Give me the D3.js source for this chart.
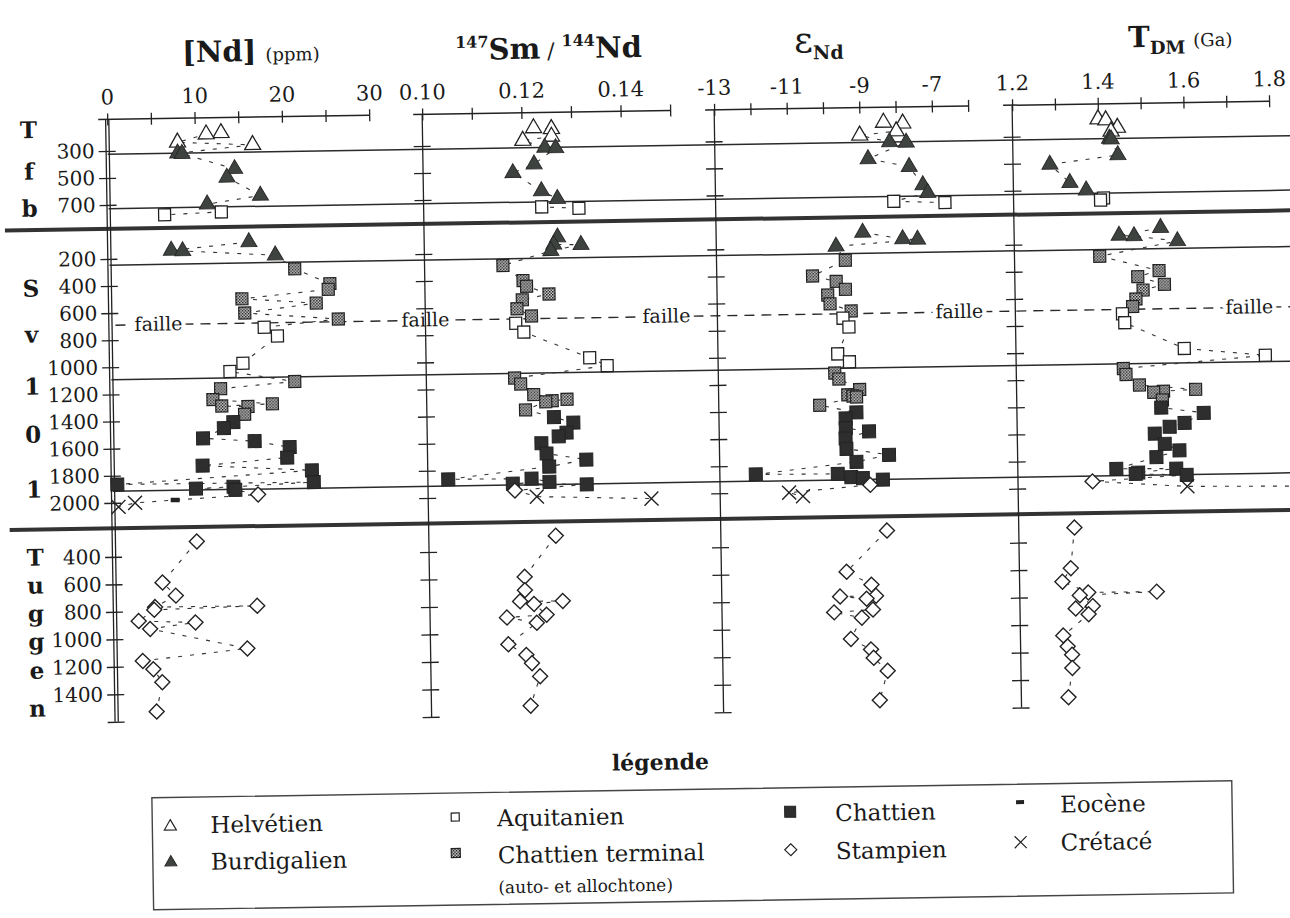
<!DOCTYPE html>
<html><head><meta charset="utf-8">
<script src="https://cdn.jsdelivr.net/npm/d3@7"></script>
<style>
body{margin:0;background:#fff;}
svg{display:block;}
text{font-family:"DejaVu Serif","Liberation Serif",serif;fill:#1a1a1a;}
</style></head><body>
<svg id="c" width="1290" height="918"></svg>
<script>
// ================= DATA =================
const ndTicks = [0,5,10,15,20,25,30];
const ndLabels = [0,10,20,30];
const smndTicks = [0.10,0.11,0.12,0.13,0.14,0.15];
const smndLabels = [0.10,0.12,0.14];
const epsTicks = [-13,-12,-11,-10,-9,-8,-7,-6];
const epsLabels = [-13,-11,-9,-7];
const tdmTicks = [1.2,1.3,1.4,1.5,1.6,1.7,1.8];
const tdmLabels = [1.2,1.4,1.6,1.8];

const tfbDepthTicks = [300,500,700];
const svDepthTicks = [200,400,600,800,1000,1200,1400,1600,1800,2000];
const tugDepthTicks = [400,600,800,1000,1200,1400];
const tugAxisEnd = [1600];

const tfbBoundaries = [325,728];
const svBoundaries = [246,1092,1915];
const svFault = [690];

// Tfb section
const tfbDepth = [180,188,245,272,325,330,448,510,648,706,765,780];
const tfbStage = ['H','H','H','H','B','B','B','B','B','B','A','A'];
const tfbNd    = [13.0,11.3,8.0,16.6,8.0,8.5,14.5,13.6,17.4,11.3,12.9,6.4];
const tfbSmNd  = [0.1224,0.1260,0.1260,0.1202,0.1246,0.1268,0.1224,0.1181,0.1238,0.1270,0.1238,0.1313];
const tfbEps   = [-8.34,-7.81,-7.99,-9.00,-8.18,-7.72,-8.78,-7.65,-7.28,-7.15,-8.09,-6.68];
const tfbTdm   = [1.400,1.418,1.445,1.430,1.426,1.430,1.445,1.286,1.332,1.370,1.410,1.403];

// Sv 101 section
const svDepth = [92,145,150,192, 295,408,450,510,550,615,670, 722,788,985,1045,
  1126,1170,1250,1288,1298,1305,1362, 1419,1462,1534,1561,1610,1686,1736,1783,
  1865,1870,1895,1905,1918, 1955,1986,2003,2031];
const svStage = ['B','B','B','B', 'CT','CT','CT','CT','CT','CT','CT', 'A','A','A','A',
  'CT','CT','CT','CT','CT','CT','CT', 'C','C','C','C','C','C','C','C',
  'C','C','C','C','C', 'S','E','K','K'];
const svNd = [16.0,7.1,8.4,19.0, 21.2,25.2,25.0,15.1,23.6,15.4,26.1, 17.6,19.1,15.1,13.6,
  21.0,12.5,11.6,18.4,12.6,15.6,15.2, 13.9,12.8,10.4,16.3,20.3,20.0,10.3,22.8,
  0.5,23.0,13.8,9.5,14.0, 16.6,7.1,2.5,0.6];
const svSmNd = [0.1269,0.1261,0.1316,0.1255, 0.1158,0.1198,0.1205,0.1250,0.1196,0.1185,0.1214,
  0.1182,0.1198,0.1330,0.1365, 0.1178,0.1190,0.1216,0.1283,0.1253,0.1240,0.1199,
  0.1256,0.1295,0.1281,0.1265,0.1230,0.1240,0.1320,0.1245,
  0.1041,0.1209,0.1245,0.1171,0.1320, 0.1175,null,0.1219,0.1450];
const svEps = [-8.96,-7.86,-7.45,-9.70, -9.45,-10.36,-9.71,-9.46,-9.95,-9.89,-9.31,
  -9.54,-9.38,-9.70,-9.38, -9.79,-9.68,-9.11,-9.44,-9.30,-9.20,-10.22,
  -9.21,-9.51,-9.51,-8.87,-9.52,-9.50,-8.33,-9.23,
  -12.01,-9.75,-9.38,-9.06,-8.51, -8.86,null,-11.10,-10.72];
const svTdm = [1.542,1.445,1.480,1.581, 1.399,1.537,1.487,1.549,1.499,1.482,1.474,
  1.450,1.455,1.593,1.782, 1.450,1.456,1.487,1.618,1.543,1.520,1.540,
  1.537,1.636,1.591,1.556,1.521,1.544,1.578,1.524,
  1.430,1.570,1.481,1.475,1.594, 1.374,null,1.595,2.30];

// Tuggen section
const tugDepth = [297,592,689,770,772,790,870,886,928,1081,1160,1221,1317,1530];
const tugStage = ['S','S','S','S','S','S','S','S','S','S','S','S','S','S'];
const tugNd    = [9.5,5.5,7.0,4.6,16.3,4.5,2.7,9.2,4.0,15.1,3.1,4.3,5.3,4.6];
const tugSmNd  = [0.1256,0.1192,0.1192,0.1182,0.1268,0.1210,0.1235,0.1155,0.1215,0.1157,0.1193,0.1204,0.1220,0.1200];
const tugEps   = [-8.42,-9.55,-8.87,-8.75,-9.74,-9.01,-8.84,-9.91,-9.15,-9.46,-8.91,-8.84,-8.46,-8.69];
const tugTdm   = [1.33,1.32,1.30,1.36,1.52,1.34,1.37,1.33,1.36,1.30,1.31,1.32,1.32,1.31];

const stageNames = {H:'Helvétien',B:'Burdigalien',A:'Aquitanien',CT:'Chattien terminal',C:'Chattien',S:'Stampien',E:'Eocène',K:'Crétacé'};

// ================= LAYOUT / STYLE =================
const FONT = '"DejaVu Serif","Liberation Serif",serif';
const AX_Y = 111, AX_BOTTOM = 713.5;
const svg = d3.select('#c');
const defs = svg.append('defs');
const pat = defs.append('pattern').attr('id','stip').attr('width',3).attr('height',3).attr('patternUnits','userSpaceOnUse');
pat.append('rect').attr('width',3).attr('height',3).attr('fill','#d8d8d8');
pat.append('rect').attr('width',1.5).attr('height',1.5).attr('fill','#111');
pat.append('rect').attr('x',1.5).attr('y',1.5).attr('width',1.5).attr('height',1.5).attr('fill','#333');

const root = svg.append('g').attr('transform','rotate(-0.9,645,420)');

const style = {
  H:{shape:'tri',size:16,fill:'#fff',stroke:'#222',sw:1.3},
  B:{shape:'tri',size:16,fill:'#3e433f',stroke:'#2a2a2a',sw:1},
  A:{shape:'sq',size:12,fill:'#fff',stroke:'#222',sw:1.3},
  CT:{shape:'sq',size:12,fill:'url(#stip)',stroke:'#222',sw:1.2},
  C:{shape:'sq',size:13,fill:'#2e2e2e',stroke:'#222',sw:1},
  S:{shape:'dia',size:15,fill:'#fff',stroke:'#222',sw:1.4},
  E:{shape:'bar',size:9,fill:'#222',stroke:'none',sw:0},
  K:{shape:'x',size:14,fill:'none',stroke:'#222',sw:1.4}
};
function shapePath(shape,s){
  if(shape==='tri'){const h=s*Math.sqrt(3)/2;return `M0,${-2*h/3}L${s/2},${h/3}L${-s/2},${h/3}Z`;}
  if(shape==='sq') return `M${-s/2},${-s/2}h${s}v${s}h${-s}Z`;
  if(shape==='dia'){const r=s/2;return `M0,${-r}L${r},0L0,${r}L${-r},0Z`;}
  if(shape==='bar') return `M${-s/2},${-s/4}h${s}v${s/2}h${-s}Z`;
  if(shape==='x'){const r=s/2;return `M${-r},${-r}L${r},${r}M${-r},${r}L${r},${-r}`;}
}

const panels = [
  {key:'nd',  x:[112,374],  dom:[0,30],      ticks:ndTicks,   labels:ndLabels,   fmt:d=>String(d)},
  {key:'smnd',x:[427,675],  dom:[0.10,0.15], ticks:smndTicks, labels:smndLabels, fmt:d=>d.toFixed(2)},
  {key:'eps', x:[719,973],  dom:[-13,-6],    ticks:epsTicks,  labels:epsLabels,  fmt:d=>String(d)},
  {key:'tdm', x:[1017,1274],dom:[1.2,1.8],   ticks:tdmTicks,  labels:tdmLabels,  fmt:d=>d.toFixed(1)}
];
panels.forEach(p=>{ p.xs = d3.scaleLinear().domain(p.dom).range(p.x); });

const sections = [
  {letters:['T','f','b'], letterY:[128.5,170,207], depth:tfbDepth, stage:tfbStage,
   vals:{nd:tfbNd,smnd:tfbSmNd,eps:tfbEps,tdm:tfbTdm},
   ys:d3.scaleLinear().domain([300,700]).range([142.5,196.5]),
   ticks:tfbDepthTicks, labelTicks:tfbDepthTicks, lines:tfbBoundaries, fault:[]},
  {letters:['S','v','1','0','1'], letterY:[287,333,385,433,488], depth:svDepth, stage:svStage,
   vals:{nd:svNd,smnd:svSmNd,eps:svEps,tdm:svTdm},
   ys:d3.scaleLinear().domain([200,2000]).range([250.5,494.5]),
   ticks:svDepthTicks, labelTicks:svDepthTicks, lines:svBoundaries, fault:svFault},
  {letters:['T','u','g','g','e','n'], letterY:[556,584,612,640,669,707], depth:tugDepth, stage:tugStage,
   vals:{nd:tugNd,smnd:tugSmNd,eps:tugEps,tdm:tugTdm},
   ys:d3.scaleLinear().domain([400,1400]).range([548.5,686]),
   ticks:tugDepthTicks.concat(tugAxisEnd), labelTicks:tugDepthTicks, lines:[], fault:[]}
];
const thickY = [220.5, 520];

// ---- titles ----
function title(x,y,parts){
  const t=root.append('text').attr('x',x).attr('y',y);
  parts.forEach(pt=>{
    const s=t.append('tspan').text(pt.t).attr('font-size',pt.fs).attr('font-weight',pt.b?'bold':'normal');
    if(pt.dy) s.attr('dy',pt.dy);
    if(pt.dx) s.attr('dx',pt.dx);
  });
}
title(188,55,[{t:'[Nd]',fs:29,b:1},{t:'(ppm)',fs:18,dx:9}]);
title(461,57,[{t:'147',fs:16,b:1,dy:-12},{t:'Sm',fs:29,b:1,dy:12},{t:' / ',fs:22},{t:'144',fs:16,b:1,dy:-12},{t:'Nd',fs:29,b:1,dy:12}]);
title(800,55,[{t:'ε',fs:36},{t:'Nd',fs:19,b:1,dy:7}]);
title(1134,55,[{t:'T',fs:29,b:1},{t:'DM',fs:18,b:1,dy:7},{t:'(Ga)',fs:18,dy:-7,dx:8}]);

// ---- horizontal section lines ----
sections.forEach(sec=>{
  sec.lines.forEach(d=>{
    root.append('line').attr('x1',panels[0].x[0]).attr('x2',1330)
      .attr('y1',sec.ys(d)).attr('y2',sec.ys(d)).attr('stroke','#2a2a2a').attr('stroke-width',1.5);
  });
  sec.fault.forEach(d=>{
    const y=sec.ys(d);
    root.append('line').attr('x1',panels[0].x[0]+5).attr('x2',1330).attr('y1',y).attr('y2',y)
      .attr('stroke','#2a2a2a').attr('stroke-width',1.4).attr('stroke-dasharray','10,7');
    [160,427,668,961,1251].forEach(cx=>{
      root.append('text').attr('x',cx).attr('y',y+6).attr('text-anchor','middle')
        .attr('font-size',19).attr('stroke','#fff').attr('stroke-width',7).attr('paint-order','stroke')
        .text('faille');
    });
  });
});
thickY.forEach(y=>{
  root.append('line').attr('x1',8).attr('x2',1330).attr('y1',y).attr('y2',y)
    .attr('stroke','#333').attr('stroke-width',4);
});

// ---- panels: axes ----
panels.forEach((p,pi)=>{
  const g=root.append('g');
  const ax=d3.axisTop(p.xs).tickValues(p.ticks).tickSize(6).tickPadding(9)
    .tickFormat(d=>p.labels.some(l=>Math.abs(l-d)<1e-9)?p.fmt(d):'');
  const ag=g.append('g').attr('transform',`translate(0,${AX_Y})`).call(ax);
  ag.select('.domain').remove();
  ag.selectAll('.tick line').attr('y1',-6).attr('y2',6).attr('stroke','#222').attr('stroke-width',1.3);
  ag.selectAll('.tick text').attr('font-family',FONT).attr('font-size',21).attr('fill','#1a1a1a');
  g.append('line').attr('x1',p.x[0]-9).attr('x2',p.x[1]).attr('y1',AX_Y).attr('y2',AX_Y)
    .attr('stroke','#222').attr('stroke-width',1.5);
  const offs = pi===0?[-1.6,1.6]:[0];
  offs.forEach(o=>g.append('line').attr('x1',p.x[0]+o).attr('x2',p.x[0]+o).attr('y1',AX_Y).attr('y2',AX_BOTTOM)
    .attr('stroke','#222').attr('stroke-width',1.3));
  sections.forEach(sec=>{
    const dax=d3.axisLeft(sec.ys).tickValues(sec.ticks).tickSize(9).tickPadding(4)
      .tickFormat(d=>pi===0 && sec.labelTicks.includes(d)?String(d):'');
    const dg=g.append('g').attr('transform',`translate(${p.x[0]},0)`).call(dax);
    dg.select('.domain').remove();
    dg.selectAll('.tick line').attr('x1',-9).attr('x2',8).attr('stroke','#222').attr('stroke-width',1.3);
    dg.selectAll('.tick text').attr('font-family',FONT).attr('font-size',20).attr('fill','#1a1a1a');
  });
});

// ---- section letters ----
sections.forEach(sec=>{
  sec.letters.forEach((L,i)=>{
    root.append('text').attr('x',33).attr('y',sec.letterY[i]).attr('text-anchor','middle')
      .attr('font-size',23).attr('font-weight','bold').text(L);
  });
});

// ---- data: dashed sequence lines + symbols ----
panels.forEach((p,pi)=>{
  const cid='clip'+pi;
  defs.append('clipPath').attr('id',cid).append('rect')
    .attr('x',p.x[0]-16).attr('y',0).attr('width',p.x[1]-p.x[0]+34).attr('height',918);
  const g=root.append('g').attr('clip-path',`url(#${cid})`);
  sections.forEach(sec=>{
    const v=sec.vals[p.key];
    const idx=d3.range(sec.depth.length).filter(i=>v[i]!=null).sort((a,b)=>sec.depth[a]-sec.depth[b]);
    const line=d3.line().x(i=>p.xs(v[i])).y(i=>sec.ys(sec.depth[i]));
    g.append('path').attr('d',line(idx)).attr('fill','none').attr('stroke','#333')
      .attr('stroke-width',1.1).attr('stroke-dasharray','4,8');
    idx.forEach(i=>{
      const st=style[sec.stage[i]];
      g.append('path').attr('d',shapePath(st.shape,st.size))
        .attr('transform',`translate(${p.xs(v[i])},${sec.ys(sec.depth[i])})`)
        .attr('fill',st.fill).attr('stroke',st.stroke).attr('stroke-width',st.sw);
    });
  });
});

// ---- legend ----
const legendItems = [
  {stage:'H', sx:164, sy:819, tx:204, ty:826, s:12},
  {stage:'B', sx:164, sy:855, tx:204, ty:863, s:12},
  {stage:'A', sx:449, sy:814, tx:491, ty:824, s:8},
  {stage:'CT',sx:449, sy:850, tx:491, ty:861, s:9},
  {stage:'C', sx:784, sy:814, tx:829, ty:824, s:11},
  {stage:'S', sx:784, sy:852, tx:829, ty:862, s:12},
  {stage:'E', sx:1014,sy:808, tx:1054,ty:819, s:8},
  {stage:'K', sx:1014,sy:848, tx:1054,ty:857, s:12}
];
root.append('text').attr('x',655).attr('y',770).attr('text-anchor','middle')
  .attr('font-size',22).attr('font-weight','bold').text('légende');
root.append('rect').attr('x',146).attr('y',790).attr('width',1080).attr('height',112)
  .attr('fill','none').attr('stroke','#444').attr('stroke-width',1.4);
legendItems.forEach(it=>{
  const st=style[it.stage];
  root.append('path').attr('d',shapePath(st.shape,it.s)).attr('transform',`translate(${it.sx},${it.sy})`)
    .attr('fill',st.fill).attr('stroke',st.stroke).attr('stroke-width',Math.min(st.sw,1.2));
  root.append('text').attr('x',it.tx).attr('y',it.ty).attr('font-size',23).text(stageNames[it.stage]);
});
root.append('text').attr('x',491).attr('y',891).attr('font-size',17).text('(auto- et allochtone)');
</script>
</body></html>
